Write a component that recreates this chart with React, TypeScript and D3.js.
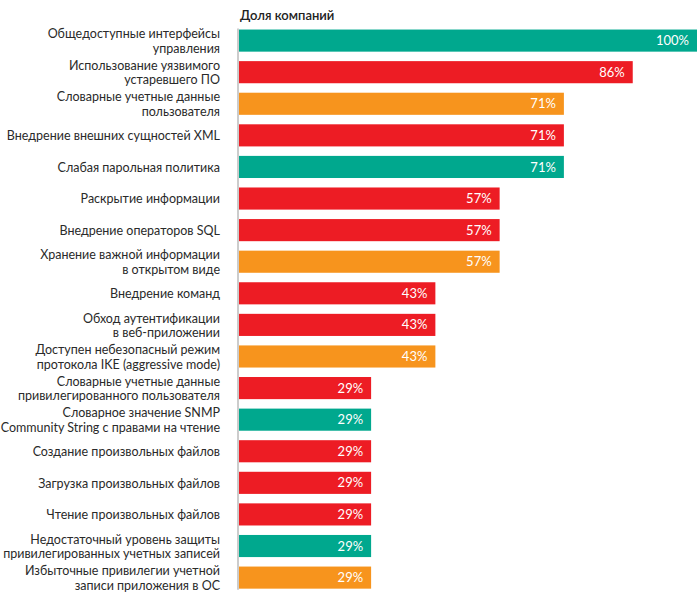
import React from "react";
import * as d3 from "d3";

const categories: string[][] = [
  ["Общедоступные интерфейсы", "управления"],
  ["Использование уязвимого", "устаревшего ПО"],
  ["Словарные учетные данные", "пользователя"],
  ["Внедрение внешних сущностей XML"],
  ["Слабая парольная политика"],
  ["Раскрытие информации"],
  ["Внедрение операторов SQL"],
  ["Хранение важной информации", "в открытом виде"],
  ["Внедрение команд"],
  ["Обход аутентификации", "в веб-приложении"],
  ["Доступен небезопасный режим", "протокола IKE (aggressive mode)"],
  ["Словарные учетные данные", "привилегированного пользователя"],
  ["Словарное значение SNMP", "Community String с правами на чтение"],
  ["Создание произвольных файлов"],
  ["Загрузка произвольных файлов"],
  ["Чтение произвольных файлов"],
  ["Недостаточный уровень защиты", "привилегированных учетных записей"],
  ["Избыточные привилегии учетной", "записи приложения в ОС"],
];
const values: number[] = [100, 86, 71, 71, 71, 57, 57, 57, 43, 43, 43, 29, 29, 29, 29, 29, 29, 29];
const groups: string[] = ["t", "r", "o", "r", "t", "r", "r", "o", "r", "r", "o", "r", "t", "r", "r", "r", "t", "o"];
const title = "Доля компаний";

const colorMap: Record<string, string> = { t: "#00A88E", r: "#ED1C24", o: "#F7941D" };

export default function App() {
  const W = 700, H = 597;
  const x0 = 238;
  const x = d3.scaleLinear().domain([0, 100]).range([x0, 697]);
  const idx = d3.range(values.length);
  const y = d3.scaleBand<number>().domain(idx).range([24.8, 593.4]).paddingInner(0.3).paddingOuter(0.15);
  const font = "Lato, 'Noto Sans', sans-serif";
  return (
    <svg width={W} height={H} style={{ position: "absolute", left: 0, top: 0 }} fontFamily={font}>
      <text x={240} y={20} fontSize={13} fontWeight={600} fill="#222">{title}</text>
      <line x1={x0} x2={x0} y1={y(0)! - 1} y2={y(values.length - 1)! + y.bandwidth() + 1} stroke="#bbb" strokeWidth={1.5} />
      {idx.map((i) => {
        const by = y(i)!;
        const bh = y.bandwidth();
        const cy = by + bh / 2;
        const lines = categories[i];
        const lh = 14.5;
        return (
          <g key={i}>
            <rect x={x0 + 1} y={by} width={x(values[i]) - x0 - 1} height={bh} fill={colorMap[groups[i]]} />
            <text x={x(values[i]) - 8} y={cy} dy="0.35em" textAnchor="end" fill="#fff" fontSize={13}>{values[i]}%</text>
            {lines.map((l, j) => (
              <text key={j} x={220} y={cy + 0.5 + (j - (lines.length - 1) / 2) * lh} dy="0.35em" textAnchor="end" fill="#2a2a2a" fontSize={12.5}>{l}</text>
            ))}
          </g>
        );
      })}
    </svg>
  );
}
